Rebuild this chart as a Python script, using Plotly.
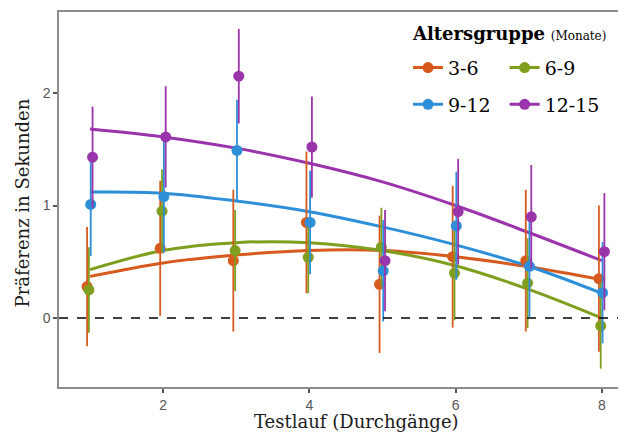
import plotly.graph_objects as go

trials = [1, 2, 3, 4, 5, 6, 7, 8]
groups = ["3-6", "6-9", "9-12", "12-15"]
colors = ["#D65A1E", "#7F9E1E", "#2E8FD9", "#9A34AA"]
dodge = [-0.04, -0.015, 0.01, 0.035]

means = {
    "3-6":   [0.28, 0.62, 0.51, 0.85, 0.30, 0.545, 0.51, 0.35],
    "6-9":   [0.25, 0.95, 0.60, 0.54, 0.63, 0.40, 0.31, -0.07],
    "9-12":  [1.01, 1.08, 1.49, 0.85, 0.42, 0.82, 0.46, 0.225],
    "12-15": [1.43, 1.61, 2.15, 1.52, 0.51, 0.945, 0.90, 0.59],
}
errors = {
    "3-6":   [0.53, 0.60, 0.63, 0.63, 0.61, 0.63, 0.63, 0.65],
    "6-9":   [0.38, 0.37, 0.36, 0.32, 0.35, 0.42, 0.40, 0.38],
    "9-12":  [0.46, 0.50, 0.45, 0.46, 0.45, 0.48, 0.45, 0.45],
    "12-15": [0.45, 0.45, 0.42, 0.45, 0.45, 0.47, 0.46, 0.52],
}
fits = {
    "3-6":   [0.37, 0.49, 0.56, 0.60, 0.60, 0.545, 0.455, 0.34],
    "6-9":   [0.43, 0.60, 0.67, 0.67, 0.60, 0.465, 0.255, 0.0],
    "9-12":  [1.12, 1.11, 1.04, 0.945, 0.81, 0.65, 0.46, 0.22],
    "12-15": [1.68, 1.61, 1.51, 1.375, 1.21, 1.0, 0.76, 0.51],
}

x_ticks = [2, 4, 6, 8]
y_ticks = [0, 1, 2]

serif = "DejaVu Serif"
sans = "Liberation Sans"

fig = go.Figure()

# zero reference line
fig.add_hline(y=0, line=dict(color="black", width=1.5, dash="dash"))

# fitted curves
for g, c in zip(groups, colors):
    fig.add_trace(go.Scatter(
        x=trials, y=fits[g], mode="lines", line=dict(color=c, width=3, shape="spline"),
        showlegend=False, hoverinfo="skip"))

# points with error bars
for i, (g, c) in enumerate(zip(groups, colors)):
    xs = [t + dodge[i] for t in trials]
    fig.add_trace(go.Scatter(
        x=xs, y=means[g], mode="markers",
        marker=dict(color=c, size=11),
        error_y=dict(type="data", array=errors[g], visible=True, color=c, thickness=1.8, width=0),
        showlegend=False))

# legend entries (two columns)
for i, (g, c) in enumerate(zip(groups, colors)):
    fig.add_trace(go.Scatter(
        x=[None], y=[None], mode="lines+markers", name=g,
        line=dict(color=c, width=3), marker=dict(color=c, size=11),
        legend="legend" if i % 2 == 0 else "legend2",
        legendgroup=g, showlegend=True))

legend_common = dict(
    font=dict(family=serif, size=19, color="black"),
    bgcolor="rgba(0,0,0,0)", tracegroupgap=9, itemwidth=30,
    yanchor="top", y=0.902, xanchor="left")

fig.update_layout(
    width=626, height=432,
    margin=dict(l=51, r=0, t=4, b=53),
    plot_bgcolor="white", paper_bgcolor="white",
    legend=dict(x=0.607, **legend_common),
    legend2=dict(x=0.775, **legend_common),
    xaxis=dict(
        range=[0.576, 8.44], tickvals=x_ticks, showgrid=False, zeroline=False,
        showline=True, linecolor="#8c8c8c", linewidth=1.5, mirror=True,
        ticks="outside", ticklen=4, tickcolor="#555555", tickwidth=1.5,
        tickfont=dict(family=sans, size=14, color="#555555"), automargin=False,
    ),
    yaxis=dict(
        range=[-0.613, 2.72], tickvals=y_ticks, showgrid=False, zeroline=False,
        showline=True, linecolor="#8c8c8c", linewidth=1.5, mirror=False,
        ticks="outside", ticklen=4, tickcolor="#555555", tickwidth=1.5,
        tickfont=dict(family=sans, size=14, color="#555555"), automargin=False,
    ),
    annotations=[
        dict(xref="paper", yref="paper", x=0.611, y=0.944, xanchor="left", yanchor="middle",
             text="<b>Altersgruppe</b> <span style='font-size:12px'>(Monate)</span>",
             showarrow=False, font=dict(family=serif, size=18, color="black")),
        dict(xref="paper", yref="paper", x=0.517, y=-0.093, xanchor="center", yanchor="middle",
             text="Testlauf (Durchgänge)", showarrow=False,
             font=dict(family=serif, size=18, color="#1a1a1a")),
        dict(xref="paper", yref="paper", x=-0.064, y=0.49, xanchor="center", yanchor="middle",
             text="Präferenz in Sekunden", showarrow=False, textangle=-90,
             font=dict(family=serif, size=18, color="#1a1a1a")),
    ],
)

fig.write_html("out.html")
